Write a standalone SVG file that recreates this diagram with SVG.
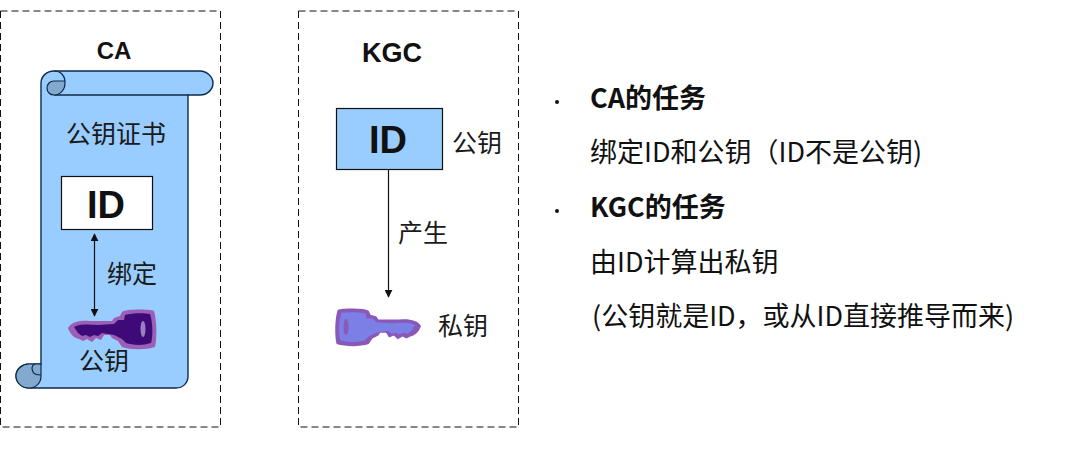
<svg xmlns="http://www.w3.org/2000/svg" width="1066" height="463" viewBox="0 0 1066 463">
<defs>
<marker id="ah" viewBox="0 0 10 10" refX="9" refY="5" markerWidth="8" markerHeight="8" markerUnits="userSpaceOnUse" orient="auto-start-reverse"><path d="M0 0L10 5L0 10Z" fill="#111"/></marker>
<path id="keyouter" d="M0 19C3 13 12 11 22 12L44 12L46 9L52 7L54 3C58 0 80 0 86 2C89 12 89 30 87 38C78 41 62 41 54 38L50 32L44 29L42 26H36L33 31L28 29L24 33L19 30L15 32L11 30C6 29 2 25 0 19Z"/>
<path id="keyinner" d="M6 18C10 15 20 15 30 16L46 15L50 11H56L57 6C64 4 76 4 82 5C85 14 85 28 83 34C74 37 64 36 58 34L54 30L46 26L34 24L30 27L26 26L22 28L18 26L14 27L10 24Z"/>
</defs>
<style>
.box{fill:#fff;stroke:#111;stroke-width:1;stroke-dasharray:7 4}
.scroll{fill:#99ccff;stroke:#0e2a4a;stroke-width:1.4}
.fold{fill:#84a9cf;stroke:#0e2a4a;stroke-width:1.2}
.cn{font-family:"Noto Sans CJK SC","Noto Sans",sans-serif;font-size:25px;fill:#1a1a1a}
.lat{font-family:"Liberation Sans",Arial,sans-serif;font-weight:700;fill:#111}
.ui{font-family:"Noto Sans CJK SC","Noto Sans",sans-serif;font-size:27px;fill:#111}
.b{font-weight:700}
.line{stroke:#111;stroke-width:1.2;fill:none}
</style>
<g id="ca-panel">
<rect class="box" x="0.5" y="11" width="220" height="416"/>
<text class="lat" x="114" y="59" font-size="24" text-anchor="middle">CA</text>
</g>
<g id="certificate-scroll">
<path class="scroll" d="M41 83C41 76 47 71 54 71H200C207 71 213 77 213 83C213 90 207 95 200 95H188V376C188 383 183 388 176 388H29C22 388 16 382 16 376C16 369 22 364 29 364H41Z"/>
<path d="M54 95H188" stroke="#0e2a4a" stroke-width="1.400" fill="none"/>
<path class="fold" d="M54 71C61 71 65 76 65 83C65 90 60 95 54 95C50 95 47 92 47 88C47 84 50 81 54 81H65C65 76 61 71 54 71Z"/>
<path class="fold" d="M29 364C23 364 16 369 16 376C16 383 22 388 29 388C36 388 41 383 41 376V364H36C32 364 31 368 33 372C34 374 36 375 41 375"/>
<text class="cn" x="116" y="143" text-anchor="middle">公钥证书</text>
</g>
<g id="id-cert">
<rect x="61.500" y="176.500" width="91" height="53" fill="#fff" stroke="#111" stroke-width="1.2"/>
<text class="lat" x="106" y="218" font-size="38" text-anchor="middle">ID</text>
</g>
<g id="public-key-cert">
<use href="#keyouter" x="68" y="309" fill="#9b5fb5"/>
<use href="#keyinner" x="68" y="309" fill="#3d0a78"/>
<ellipse cx="143" cy="329" rx="2.500" ry="8" fill="#9b7fc5"/>
<text class="cn" x="104" y="370" text-anchor="middle">公钥</text>
</g>
<text class="cn" x="132" y="283" text-anchor="middle" id="bind-label">绑定</text>
<g id="kgc-panel">
<rect class="box" x="298.500" y="11" width="220" height="416"/>
<text class="lat" x="392" y="62" font-size="27" text-anchor="middle">KGC</text>
</g>
<g id="id-kgc">
<rect x="336.500" y="108.500" width="106" height="61" fill="#99ccff" stroke="#111" stroke-width="1.2"/>
<text class="lat" x="388" y="153" font-size="38" text-anchor="middle">ID</text>
<text class="cn" x="477" y="152" text-anchor="middle">公钥</text>
</g>
<text class="cn" x="423" y="242" text-anchor="middle" id="gen-label">产生</text>
<g id="private-key">
<use href="#keyouter" transform="translate(421 308) scale(-.97 .95)" fill="#8a58b8"/>
<use href="#keyinner" transform="translate(421 308) scale(-.97 .95)" fill="#7b7fe6"/>
<ellipse cx="346" cy="327" rx="2.500" ry="8" fill="#8a58b8"/>
<text class="cn" x="463" y="335" text-anchor="middle">私钥</text>
</g>
<g id="connectors">
<path class="line" d="M94.500 234V316" marker-start="url(#ah)" marker-end="url(#ah)"/>
<path class="line" d="M388.500 170V297" marker-end="url(#ah)"/>
</g>
<g id="tasks">
<circle cx="557" cy="102" r="2" fill="#111"/>
<text class="ui b" x="590" y="108">CA的任务</text>
<text class="ui" x="590" y="162">绑定ID和公钥（ID不是公钥)</text>
<circle cx="557" cy="211" r="2" fill="#111"/>
<text class="ui b" x="590" y="217">KGC的任务</text>
<text class="ui" x="590" y="272">由ID计算出私钥</text>
<text class="ui" x="592" y="326">(公钥就是ID，或从ID直接推导而来)</text>
</g>
</svg>
